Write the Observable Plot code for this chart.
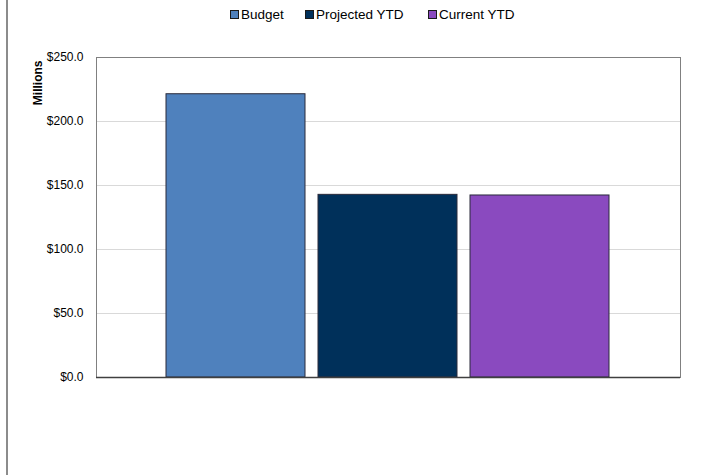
<!DOCTYPE html>
<html>
<head>
<meta charset="utf-8">
<script src="https://cdn.jsdelivr.net/npm/d3@7"></script>
<script src="https://cdn.jsdelivr.net/npm/@observablehq/plot@0.6"></script>
<style>
  html, body { margin: 0; padding: 0; background: #fff; }
  #wrap { position: relative; width: 715px; height: 475px; overflow: hidden; font-family: "Liberation Sans", Arial, sans-serif; }
  #edge { position: absolute; left: 6px; top: 0; width: 2px; height: 475px; background: #8c8c8c; }
  #legend { height: 30px; position: relative; font-size: 13.5px; color: #000; }
  .item { position: absolute; top: 7px; display: flex; align-items: center; white-space: nowrap; }
  .sw { width: 7px; height: 7px; border: 1px solid #1a1a1a; margin-right: 2px; display: inline-block; }
</style>
</head>
<body>
<div id="wrap">
  <div id="edge"></div>
  <div id="legend"></div>
  <div id="chart"></div>
</div>
<script>
const series = ["Budget", "Projected YTD", "Current YTD"];
const values = [221.3, 142.7, 142.2];
const colors = ["#4f81bd", "#00305a", "#8a4abf"];
const yTicks = [0, 50, 100, 150, 200, 250];
const yLabel = "Millions";

const legendX = [230, 305, 428];
const legend = document.getElementById("legend");
series.forEach((s, i) => {
  const d = document.createElement("div");
  d.className = "item";
  d.style.left = legendX[i] + "px";
  const sw = document.createElement("span");
  sw.className = "sw";
  sw.style.background = colors[i];
  d.appendChild(sw);
  d.appendChild(document.createTextNode(s));
  legend.appendChild(d);
});

const data = series.map((s, i) => ({series: s, value: values[i]}));

const chart = Plot.plot({
  width: 715,
  height: 445,
  marginTop: 27,
  marginBottom: 98,
  marginLeft: 96,
  marginRight: 35,
  style: {fontFamily: "Liberation Sans, Arial, sans-serif", color: "#000", background: "#fff"},
  x: {domain: series, type: "band", paddingInner: 0.085, paddingOuter: 0.451, axis: null},
  y: {domain: [0, 250], label: null, axis: null},
  color: {domain: series, range: colors},
  marks: [
    Plot.gridY(yTicks, {stroke: "#d9d9d9", strokeOpacity: 1, strokeWidth: 1}),
    Plot.axisY(yTicks, {tickFormat: d => "$" + d3.format(".1f")(d), tickSize: 0, tickPadding: 13, fontSize: 12, fill: "#000", label: null}),
    Plot.frame({stroke: "#808080", strokeWidth: 1}),
    Plot.barY(data, {x: "series", y: "value", fill: "series", stroke: "#2a2a3a", strokeWidth: 1}),
    Plot.ruleY([0], {stroke: "#404040", strokeWidth: 1.5}),
    Plot.text([yLabel], {frameAnchor: "top-left", text: d => d, rotate: -90, textAnchor: "end", dx: -63, dy: 3, fontWeight: "bold", fontSize: 12, fill: "#000"})
  ]
});
document.getElementById("chart").appendChild(chart);
</script>
</body>
</html>
